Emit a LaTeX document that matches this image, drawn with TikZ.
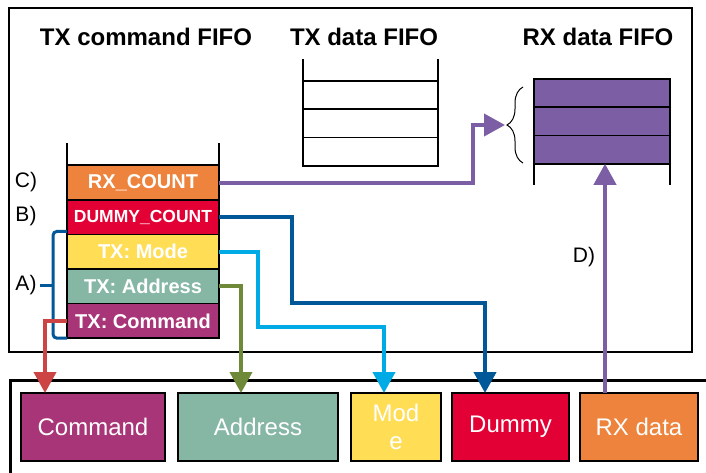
\documentclass[tikz,border=0pt]{standalone}
\usepackage{fontspec}
\setmainfont{Liberation Sans}
\usetikzlibrary{positioning, arrows.meta, decorations.pathreplacing}

\definecolor{orgc}{RGB}{237,131,60}
\definecolor{redc}{RGB}{227,0,52}
\definecolor{yelc}{RGB}{255,221,85}
\definecolor{tealc}{RGB}{134,183,165}
\definecolor{magc}{RGB}{168,53,120}
\definecolor{purc}{RGB}{123,94,163}
\definecolor{wredc}{RGB}{204,68,68}
\definecolor{wgrnc}{RGB}{110,138,56}
\definecolor{lbluc}{RGB}{0,170,228}
\definecolor{dbluc}{RGB}{0,88,152}

\begin{document}
\begin{tikzpicture}[x=1pt, y=-1pt,
        cell/.style = {draw, black, line width=1.5pt, minimum width=152pt, minimum height=34.6pt, inner sep=0pt, outer sep=0pt, text=white, font=\bfseries\fontsize{20}{24}\selectfont},
        slot/.style = {draw, black, line width=1.5pt, minimum width=135pt, minimum height=28.3pt, inner sep=0pt, outer sep=0pt},
        blk/.style = {draw, black, line width=1.5pt, minimum height=68pt, inner sep=0pt, outer sep=0pt, text=white, align=center, font=\fontsize{24}{28}\selectfont},
        title/.style = {font=\bfseries\fontsize{24}{28}\selectfont},
        tag/.style = {font=\fontsize{21}{24}\selectfont},
        wire/.style = {line width=4pt, -{Triangle[length=21pt, width=22pt]}}
    ]
        \useasboundingbox (0,0) rectangle (706,472);
        \draw[line width=1.5pt] (9,8) rectangle (692,352);
        \draw[line width=3pt] (10,490) -- (10,380) -- (720,380);

        \node[title] (cmdtitle) at (146,37) {TX command FIFO};
        \node[title] (txtitle) at (364,37) {TX data FIFO};
        \node[title] (rxtitle) at (598,37) {RX data FIFO};

        \node[cell, fill=orgc] (rxcnt) at (143,182.5) {RX\_COUNT};
        \node[cell, fill=redc, below=0pt of rxcnt, font=\bfseries\fontsize{17.5}{20}\selectfont] (dummy) {DUMMY\_COUNT};
        \node[cell, fill=yelc, below=0pt of dummy] (mode) {TX: Mode};
        \node[cell, fill=tealc, below=0pt of mode] (addr) {TX: Address};
        \node[cell, fill=magc, below=0pt of addr] (cmd) {TX: Command};
        \draw[line width=1.5pt] (rxcnt.north west) -- ++(0,-22);
        \draw[line width=1.5pt] (rxcnt.north east) -- ++(0,-22);

        \node[slot] (txd1) at (370.5,95) {};
        \node[slot, below=0pt of txd1] (txd2) {};
        \node[slot, below=0pt of txd2] (txd3) {};
        \draw[line width=1.5pt] (txd1.north west) -- ++(0,-22);
        \draw[line width=1.5pt] (txd1.north east) -- ++(0,-22);

        \node[slot, fill=purc, minimum width=136pt] (rxd1) at (602,93) {};
        \node[slot, fill=purc, minimum width=136pt, below=0pt of rxd1] (rxd2) {};
        \node[slot, fill=purc, minimum width=136pt, below=0pt of rxd2] (rxd3) {};
        \draw[line width=1.5pt] (rxd3.south west) -- ++(0,21);
        \draw[line width=1.5pt] (rxd3.south east) -- ++(0,21);
        \draw[line width=1pt, decorate, decoration={brace, amplitude=16pt}] (523,163) -- (523,87);
        \coordinate (rxtip) at (505,125);

        \node[blk, fill=magc, minimum width=144pt] (cmdblk) at (93,427) {Command};
        \node[blk, fill=tealc, minimum width=160pt, right=13pt of cmdblk] (addrblk) {Address};
        \node[blk, fill=yelc, minimum width=90pt, right=13pt of addrblk] (modeblk) {Mod\\e};
        \node[blk, fill=redc, minimum width=117pt, right=11pt of modeblk] (dumblk) {Dummy};
        \node[blk, fill=orgc, minimum width=118pt, right=11pt of dumblk] (rxdblk) {RX data};

        \node[tag] (lc) at (26,182) {C)};
        \node[tag] (lb) at (26,216) {B)};
        \node[tag] (la) at (26,285) {A)};
        \node[tag] (ld) at (584,257) {D)};

        \draw[dbluc, line width=3pt, rounded corners=4pt] ([yshift=3pt]mode.north west) -- ++(-14,0) |- (cmd.south west);
        \draw[dbluc, line width=3pt] (la.east) -- ++(13,0);

        \draw[wire, purc] (rxcnt.east) -| (473,125) -- (rxtip);
        \draw[wire, dbluc] (dummy.east) -| (292,303) -| ([xshift=33pt]dumblk.north west);
        \draw[wire, lbluc] (mode.east) -| (258,327) -| ([xshift=33pt]modeblk.north west);
        \draw[wire, wgrnc] (addr.east) -| ([xshift=63pt]addrblk.north west);
        \draw[wire, wredc] (cmd.west) -| ([xshift=24pt]cmdblk.north west);
        \coordinate (rxin) at ([xshift=25pt]rxdblk.north west);
        \draw[wire, purc] (rxin) -- (rxin |- rxd3.south);
    \end{tikzpicture}
\end{document}
